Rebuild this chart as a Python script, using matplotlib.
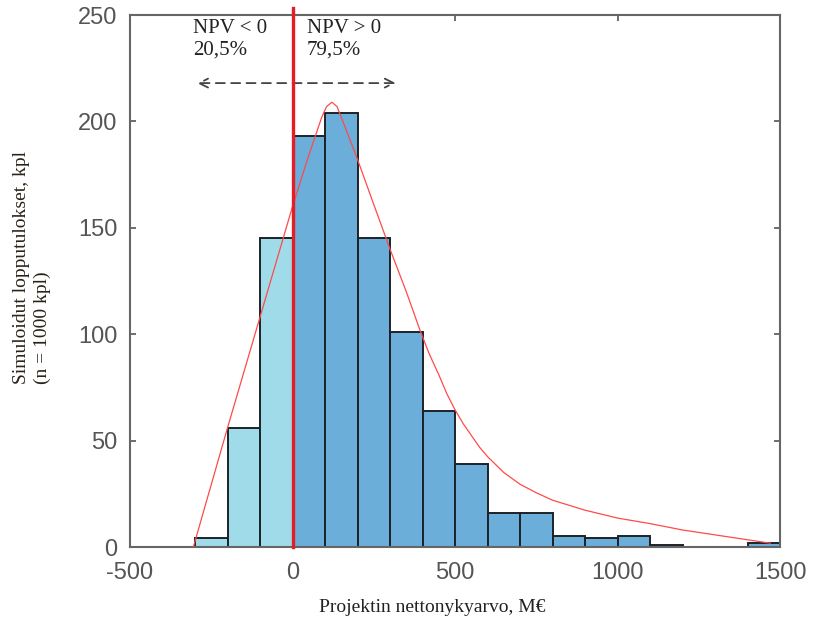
"""
NPV-simulointi: histogrammi projektin nettonykyarvosta (n = 1000)
"""
import matplotlib
matplotlib.use("Agg")
import matplotlib.pyplot as plt

# histogrammin luokat (M€) ja frekvenssit
bin_edges = [-300, -200, -100, 0, 100, 200, 300, 400, 500, 600, 700,
             800, 900, 1000, 1100, 1200, 1300, 1400, 1500]
counts = [4, 56, 145, 193, 204, 145, 101, 64, 39, 16, 16,
          5, 4, 5, 1, 0, 0, 2]

# sovitettu jakauma (luettu kuvasta)
fit_x = [-305, -200, -100, 0, 50, 90, 105, 121, 137, 155, 198, 250, 300,
         350, 392, 420, 450, 475, 500, 525, 550, 575, 600, 650, 700, 750,
         800, 900, 1000, 1100, 1200, 1300, 1400, 1470]
fit_y = [0, 56, 108, 160, 184, 202, 207, 209, 207, 200, 183, 161, 140,
         120, 102, 91, 81, 72, 64.5, 58, 52.5, 47, 42.5, 35, 29.5, 25.5,
         22, 17.3, 13.6, 11, 8, 5.7, 3.4, 1.8]

x_ticks = [-500, 0, 500, 1000, 1500]
y_ticks = [0, 50, 100, 150, 200, 250]

plt.rcParams["axes.unicode_minus"] = False
serif = "Liberation Serif"
sans = "Liberation Sans"

fig = plt.figure(figsize=(8.15, 6.31), dpi=100)
ax = fig.add_axes([130 / 815, 1 - 547 / 631, 650 / 815, 532 / 631])

widths = [b - a for a, b in zip(bin_edges[:-1], bin_edges[1:])]
colors = ["#a0dbea" if e < 0 else "#6aaed9" for e in bin_edges[:-1]]
ax.bar(bin_edges[:-1], counts, width=widths, align="edge", color=colors,
       edgecolor="#1c2228", linewidth=1.4, zorder=2)

ax.plot(fit_x, fit_y, color="#ff4a4a", linewidth=0.9, zorder=3)
ax.axvline(0, ymin=0, ymax=1.014, color="#e51e25", linewidth=2.4,
           clip_on=False, zorder=4)

ax.text(-306, 248, "NPV < 0\n20,5%", family=serif, fontsize=15,
        color="#222222", ha="left", va="top", linespacing=1.15)
ax.text(45, 248, "NPV > 0\n79,5%", family=serif, fontsize=15,
        color="#222222", ha="left", va="top", linespacing=1.15)
ax.annotate("", xy=(-302, 218), xytext=(326, 218),
            arrowprops=dict(arrowstyle="<->", color="#444444", lw=1.3,
                            linestyle=(0, (5, 3.5)), mutation_scale=16))

ax.set_xlim(-500, 1500)
ax.set_ylim(0, 250)
ax.set_xticks(x_ticks)
ax.set_yticks(y_ticks)
ax.tick_params(direction="in", top=True, right=True, length=4, width=1.2,
               color="#555555", labelcolor="#555555", labelsize=17)
ax.tick_params(axis="x", pad=11)
ax.tick_params(axis="y", pad=9)
for lbl in ax.get_xticklabels() + ax.get_yticklabels():
    lbl.set_family(sans)
for sp in ax.spines.values():
    sp.set_color("#666666")
    sp.set_linewidth(1.5)

fig.text(432 / 815, 1 - 607 / 631, "Projektin nettonykyarvo, M€",
         family=serif, fontsize=14, color="#222222", ha="center", va="center")
fig.text(32 / 815, 1 - 268 / 631,
         "Simuloidut lopputulokset, kpl\n(n = 1000 kpl)",
         family=serif, fontsize=14, color="#2a2218", rotation=90,
         ha="center", va="center", multialignment="left", linespacing=1.3)

fig.savefig("out.png", dpi=100)
plt.close()
